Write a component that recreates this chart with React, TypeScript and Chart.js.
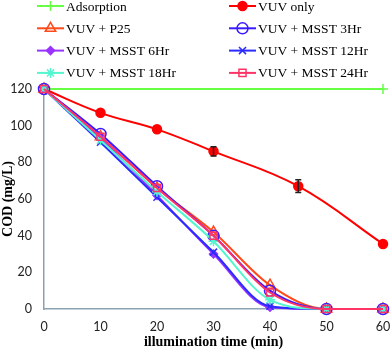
import React, { useEffect, useRef } from 'react';
import { Chart, registerables } from 'chart.js';
import { drawPoint } from 'chart.js/helpers';

Chart.register(...registerables);

// ---- data ----
const timesMain = [0, 10, 20, 30, 40, 50, 60];
const timesVuvOnly = [0, 10, 20, 30, 45, 60];
const timesAdsorption = [0, 60];

const adsorption = [120, 120];
const vuvOnly = [120, 107, 98, 86, 67, 35.5];
const vuvOnlyErr = [0, 0, 0, 2.5, 3.5, 0];
const vuvP25 = [120, 94, 66, 42, 13, 0, 0];
const msst3 = [120, 95.5, 67, 40, 10, 0, 0];
const msst6 = [120, 93, 62, 30, 1, 0, 0];
const msst12 = [120, 91, 61, 31, 1.5, 0, 0];
const msst18 = [120, 92, 64, 37, 5, 0, 0];
const msst24 = [120, 94, 66, 40, 9, 0, 0];

const xTicks = [0, 10, 20, 30, 40, 50, 60];
const yTicks = [0, 20, 40, 60, 80, 100, 120];

const toXY = (xs: number[], ys: number[]) => xs.map((x, i) => ({ x, y: ys[i] }));

const errorBarPlugin = {
  id: 'errorBars',
  afterDatasetsDraw(chart: any) {
    const ctx = chart.ctx;
    const yScale = chart.scales.y;
    chart.data.datasets.forEach((ds: any, di: number) => {
      if (!ds.errors) return;
      const meta = chart.getDatasetMeta(di);
      ctx.save();
      ctx.strokeStyle = '#222';
      ctx.lineWidth = 1.5;
      meta.data.forEach((pt: any, i: number) => {
        const e = ds.errors[i];
        if (!e) return;
        const v = ds.data[i].y;
        const yTop = yScale.getPixelForValue(v + e);
        const yBot = yScale.getPixelForValue(v - e);
        const x = pt.x;
        ctx.beginPath();
        ctx.moveTo(x, yTop); ctx.lineTo(x, yBot);
        ctx.moveTo(x - 3, yTop); ctx.lineTo(x + 3, yTop);
        ctx.moveTo(x - 3, yBot); ctx.lineTo(x + 3, yBot);
        ctx.stroke();
      });
      ctx.restore();
    });
  },
};

const legendPlugin = {
  id: 'colLegend',
  afterDraw(chart: any) {
    const ctx = chart.ctx;
    ctx.save();
    chart.data.datasets.forEach((ds: any, i: number) => {
      const col = i % 2;
      const row = Math.floor(i / 2);
      const x0 = col === 0 ? 37 : 229;
      const y = 6 + row * 22.3;
      ctx.strokeStyle = ds.borderColor;
      ctx.lineWidth = 2;
      ctx.beginPath();
      ctx.moveTo(x0, y);
      ctx.lineTo(x0 + 27, y);
      ctx.stroke();
      ctx.fillStyle = ds.pointBackgroundColor;
      ctx.strokeStyle = ds.pointBorderColor;
      ctx.lineWidth = ds.pointBorderWidth;
      drawPoint(
        ctx,
        { pointStyle: ds.pointStyle, radius: ds.pointRadius, rotation: 0, borderWidth: ds.pointBorderWidth },
        x0 + 13.5,
        y
      );
      ctx.fillStyle = '#000';
      ctx.font = '13.5px "Liberation Serif"';
      ctx.textBaseline = 'middle';
      ctx.textAlign = 'left';
      ctx.fillText(ds.label, x0 + 29, y + 1);
    });
    ctx.restore();
  },
};

function mk(label: string, xs: number[], ys: number[], color: string, style: string, radius: number, filled: boolean, idx: number, extra: any = {}) {
  return {
    label,
    data: toXY(xs, ys),
    borderColor: color,
    backgroundColor: color,
    borderWidth: 2,
    pointStyle: style,
    pointRadius: radius,
    pointBorderColor: color,
    pointBackgroundColor: filled ? color : 'rgba(255,255,255,0)',
    pointBorderWidth: 1.5,
    cubicInterpolationMode: 'monotone',
    clip: false,
    order: 20 - idx,
    ...extra,
  };
}

export default function App() {
  const ref = useRef<HTMLCanvasElement | null>(null);
  useEffect(() => {
    if (!ref.current) return;
    const datasets: any[] = [
      mk('Adsorption', timesAdsorption, adsorption, '#66FF44', 'cross', 5, true, 0),
      mk('VUV only', timesVuvOnly, vuvOnly, '#FF0000', 'circle', 4.5, true, 1, { cubicInterpolationMode: 'default', tension: 0.4, errors: vuvOnlyErr }),
      mk('VUV + P25', timesMain, vuvP25, '#FF4A1A', 'triangle', 6, false, 2),
      mk('VUV + MSST 3Hr', timesMain, msst3, '#3A1AFF', 'circle', 5.5, false, 3),
      mk('VUV + MSST 6Hr', timesMain, msst6, '#9933FF', 'rectRot', 4, true, 4),
      mk('VUV + MSST 12Hr', timesMain, msst12, '#2B2BFF', 'crossRot', 5, true, 5),
      mk('VUV + MSST 18Hr', timesMain, msst18, '#55F5D0', 'star', 5, true, 6),
      mk('VUV + MSST 24Hr', timesMain, msst24, '#FF3366', 'rect', 5, false, 7),
    ];
    const chart = new Chart(ref.current, {
      type: 'line',
      data: { datasets },
      plugins: [errorBarPlugin, legendPlugin],
      options: {
        animation: false,
        responsive: false,
        layout: { padding: { top: 89, right: 0, left: 0, bottom: 0 } },
        plugins: { legend: { display: false }, tooltip: { enabled: false } },
        scales: {
          x: {
            type: 'linear',
            min: 0,
            max: 60,
            afterFit: (s: any) => { s.height = 43; s.paddingRight = 9; s.paddingLeft = 0; },
            afterBuildTicks: (s: any) => { s.ticks = xTicks.map((v) => ({ value: v })); },
            grid: { display: false, drawTicks: false },
            border: { display: true, color: '#8AA3B3', width: 1.5 },
            ticks: { padding: 10, color: '#222', font: { family: 'Lato', size: 12.5 } },
            title: {
              display: true,
              text: 'illumination time (min)',
              color: '#000',
              padding: { top: 0, bottom: 1 },
              font: { family: '"Liberation Serif"', size: 14, weight: 'bold' },
            },
          },
          y: {
            type: 'linear',
            min: 0,
            max: 120,
            afterFit: (s: any) => { s.width = 44; },
            afterBuildTicks: (s: any) => { s.ticks = yTicks.map((v) => ({ value: v })); },
            grid: { display: false, drawTicks: false },
            border: { display: true, color: '#8AA3B3', width: 1.5 },
            ticks: { padding: 12, color: '#222', font: { family: 'Lato', size: 12.5 } },
            title: {
              display: true,
              text: 'COD (mg/L)',
              color: '#000',
              padding: { top: 0, bottom: 0 },
              font: { family: '"Liberation Serif"', size: 14, weight: 'bold' },
            },
          },
        },
      } as any,
    });
    return () => chart.destroy();
  }, []);
  return (
    <div style={{ position: 'absolute', left: 0, top: 0, width: 392, height: 352, background: '#fff' }}>
      <canvas ref={ref} width={392} height={352} style={{ width: 392, height: 352 }} />
    </div>
  );
}
